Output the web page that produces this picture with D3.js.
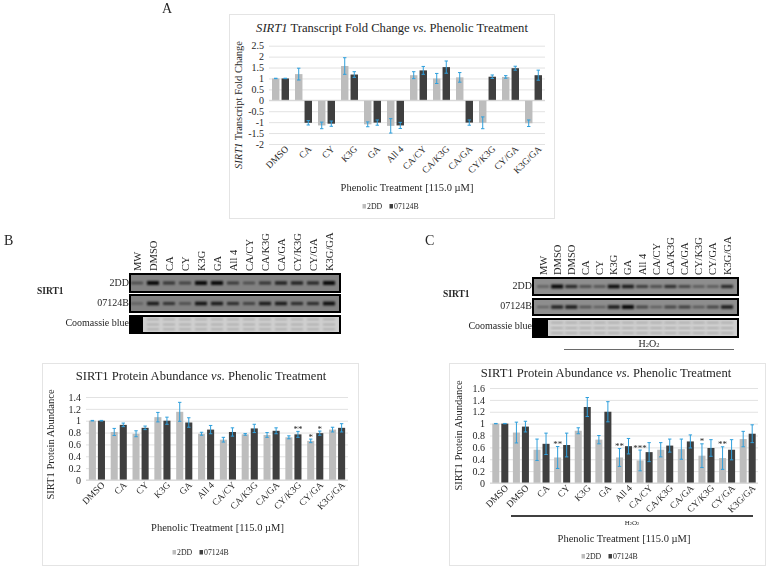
<!DOCTYPE html>
<html>
<head>
<meta charset="utf-8">
<script src="https://cdn.jsdelivr.net/npm/d3@7"></script>
<style>
  body { margin: 0; background: #fff; }
  svg { display: block; filter: blur(0.35px); }
  text { font-family: "Liberation Serif", serif; fill: #262626; }
</style>
</head>
<body>
<div id="chart"></div>
<script>
// series names
const seriesNames = ['2DD', '07124B'];

// panel A - transcript fold change
const catsA = ['DMSO', 'CA', 'CY', 'K3G', 'GA', 'All 4', 'CA/CY', 'CA/K3G', 'CA/GA', 'CY/K3G', 'CY/GA', 'K3G/GA'];
const a2DD = [1, 1.2, -1.15, 1.57, -1.1, -1.17, 1.15, 1.0, 1.05, -1.03, 1.07, -1.05];
const a07 = [1, -1.03, -1.07, 1.18, -1.02, -1.15, 1.37, 1.52, -1.02, 1.08, 1.47, 1.15];
const aErr2DD = [0.01, 0.27, 0.15, 0.38, 0.11, 0.33, 0.16, 0.23, 0.22, 0.27, 0.06, 0.15];
const aErr07 = [0.01, 0.1, 0.12, 0.13, 0.12, 0.14, 0.18, 0.28, 0.12, 0.08, 0.09, 0.23];
const ticksA = [-2, -1.5, -1, -0.5, 0, 0.5, 1, 1.5, 2, 2.5];

// panel B - protein abundance
const catsB = catsA;
const b2DD = [1, 0.81, 0.78, 1.06, 1.15, 0.78, 0.68, 0.77, 0.76, 0.72, 0.66, 0.85];
const b07 = [1, 0.93, 0.88, 1.0, 0.97, 0.85, 0.81, 0.87, 0.83, 0.77, 0.79, 0.88];
const bErr2DD = [0.005, 0.06, 0.05, 0.08, 0.16, 0.025, 0.04, 0.015, 0.04, 0.025, 0.03, 0.04];
const bErr07 = [0.005, 0.03, 0.03, 0.06, 0.08, 0.07, 0.07, 0.07, 0.05, 0.05, 0.035, 0.07];
const bStars2DD = ['', '', '', '', '', '', '', '', '', '', '*', ''];
const bStars07 = ['', '', '', '', '', '', '', '', '', '**', '*', ''];
const ticksB = [0, 0.2, 0.4, 0.6, 0.8, 1, 1.2, 1.4];

// panel C - protein abundance with H2O2
const catsC = ['DMSO', 'DMSO ', 'CA', 'CY', 'K3G', 'GA', 'All 4', 'CA/CY', 'CA/K3G', 'CA/GA', 'CY/K3G', 'CY/GA', 'K3G/GA'];
const c2DD = [1, 0.85, 0.56, 0.43, 0.88, 0.73, 0.43, 0.38, 0.56, 0.57, 0.46, 0.42, 0.74];
const c07 = [1, 0.95, 0.66, 0.64, 1.28, 1.2, 0.62, 0.52, 0.63, 0.7, 0.59, 0.56, 0.83];
const cErr2DD = [0.003, 0.175, 0.18, 0.185, 0.05, 0.07, 0.15, 0.175, 0.12, 0.17, 0.2, 0.19, 0.13];
const cErr07 = [0.003, 0.09, 0.18, 0.2, 0.16, 0.17, 0.13, 0.16, 0.11, 0.11, 0.14, 0.17, 0.15];
const cStars2DD = ['', '', '', '**', '', '', '**', '***', '', '', '*', '**', ''];
const cStars07 = ['', '', '', '', '', '', '', '', '', '', '', '', ''];
const ticksC = [0, 0.2, 0.4, 0.6, 0.8, 1, 1.2, 1.4, 1.6];

// blots - band strength per lane, 0 to 1
const lanesB = ['MW', 'DMSO', 'CA', 'CY', 'K3G', 'GA', 'All 4', 'CA/CY', 'CA/K3G', 'CA/GA', 'CY/K3G', 'CY/GA', 'K3G/GA'];
const bandsB2DD = [0.4, 0.95, 0.6, 0.5, 0.95, 0.95, 0.55, 0.4, 0.6, 0.75, 0.75, 0.7, 0.95];
const bandsB07 = [0.25, 0.8, 0.6, 0.4, 0.85, 0.8, 0.65, 0.5, 0.8, 0.8, 0.65, 0.65, 0.9];
const lanesC = ['MW', 'DMSO', 'DMSO ', 'CA', 'CY', 'K3G', 'GA', 'All 4', 'CA/CY', 'CA/K3G', 'CA/GA', 'CY/K3G', 'CY/GA', 'K3G/GA'];
const bandsC2DD = [0.3, 0.95, 0.7, 0.45, 0.4, 0.9, 0.8, 0.55, 0.45, 0.65, 0.5, 0.35, 0.35, 0.7];
const bandsC07 = [0.25, 0.75, 0.8, 0.4, 0.3, 0.8, 0.95, 0.5, 0.3, 0.5, 0.55, 0.35, 0.5, 0.8];

const colors = { '2DD': '#bdbdbd', '07124B': '#3f3f3f' };
const errColor = '#2f9fdc';

const svg = d3.select('#chart').append('svg').attr('width', 771).attr('height', 571);

const blur = svg.append('defs').append('filter').attr('id', 'soft')
  .attr('x', '-30%').attr('y', '-100%').attr('width', '160%').attr('height', '300%');
blur.append('feGaussianBlur').attr('stdDeviation', 0.9);

// title parts: [text, italic]
function richText(sel, parts) {
  parts.forEach(p => {
    sel.append('tspan').attr('font-style', p[1] ? 'italic' : 'normal').text(p[0]);
  });
}

function drawBars(o) {
  const g = svg.append('g');

  g.append('rect')
    .attr('x', o.card[0]).attr('y', o.card[1])
    .attr('width', o.card[2] - o.card[0]).attr('height', o.card[3] - o.card[1])
    .attr('fill', '#fff').attr('stroke', '#e4e4e4').attr('stroke-width', 1);

  const x0 = d3.scaleBand().domain(o.cats).range([o.left, o.right]);
  const x1 = d3.scaleBand().domain(seriesNames).range([0, x0.bandwidth()])
    .paddingInner(0.22).paddingOuter(o.barPad);
  const y = d3.scaleLinear().domain(o.domain).range([o.bottom, o.top]);

  // gridlines
  g.append('g').attr('transform', `translate(${o.left},0)`)
    .call(d3.axisLeft(y).tickValues(o.ticks).tickSize(0).tickPadding(5).tickFormat(d => String(d)))
    .call(a => a.select('.domain').remove())
    .call(a => a.selectAll('text').attr('font-size', 10))
    .call(a => a.selectAll('.tick').append('line')
      .attr('x2', o.right - o.left).attr('stroke', '#e2e2e2').attr('stroke-width', 1));

  seriesNames.forEach((s, si) => {
    const vals = o.values[si], errs = o.errs[si];
    g.selectAll(null).data(o.cats).enter().append('rect')
      .attr('x', c => x0(c) + x1(s))
      .attr('width', x1.bandwidth())
      .attr('y', (c, i) => y(Math.max(0, vals[i])))
      .attr('height', (c, i) => Math.abs(y(vals[i]) - y(0)))
      .attr('fill', colors[s]);
  });

  // baseline
  g.append('line').attr('x1', o.left).attr('x2', o.right)
    .attr('y1', y(0)).attr('y2', y(0)).attr('stroke', '#d4d4d4');

  seriesNames.forEach((s, si) => {
    const vals = o.values[si], errs = o.errs[si];
    const cx = c => x0(c) + x1(s) + x1.bandwidth() / 2;
    const eb = g.selectAll(null).data(o.cats).enter().append('g')
      .attr('stroke', errColor).attr('stroke-width', 1);
    eb.append('line').attr('x1', cx).attr('x2', cx)
      .attr('y1', (c, i) => y(vals[i] - errs[i])).attr('y2', (c, i) => y(vals[i] + errs[i]));
    eb.append('line').attr('x1', c => cx(c) - 1.7).attr('x2', c => cx(c) + 1.7)
      .attr('y1', (c, i) => y(vals[i] - errs[i])).attr('y2', (c, i) => y(vals[i] - errs[i]));
    eb.append('line').attr('x1', c => cx(c) - 1.7).attr('x2', c => cx(c) + 1.7)
      .attr('y1', (c, i) => y(vals[i] + errs[i])).attr('y2', (c, i) => y(vals[i] + errs[i]));

    if (o.stars) {
      g.selectAll(null).data(o.cats).enter().append('text')
        .attr('x', cx).attr('y', (c, i) => y(vals[i] + errs[i]) + 0.5)
        .attr('text-anchor', 'middle').attr('font-size', 9)
        .text((c, i) => o.stars[si][i]);
    }
  });

  // category labels sit at the bottom of the plot
  g.append('g').attr('transform', `translate(0,${o.bottom})`)
    .call(d3.axisBottom(x0).tickSize(0).tickPadding(4).tickFormat(d => d.trim()))
    .call(a => a.select('.domain').remove())
    .call(a => a.selectAll('text')
      .attr('font-size', 9.5)
      .attr('text-anchor', 'end')
      .attr('dx', '2').attr('dy', '6')
      .attr('transform', 'rotate(-45)'));

  const title = g.append('text').attr('x', o.titleAt[0]).attr('y', o.titleAt[1])
    .attr('text-anchor', 'middle').attr('font-size', o.titleSize);
  richText(title, o.title);

  const yt = g.append('text')
    .attr('transform', `translate(${o.yTitleAt[0]},${o.yTitleAt[1]}) rotate(-90)`)
    .attr('text-anchor', 'middle').attr('font-size', o.yTitleSize);
  richText(yt, o.yTitle);

  g.append('text').attr('x', o.xTitleAt[0]).attr('y', o.xTitleAt[1])
    .attr('text-anchor', 'middle').attr('font-size', 10.5)
    .text('Phenolic Treatment [115.0 µM]');

  seriesNames.forEach((s, si) => {
    g.append('rect').attr('x', o.legend[si] - 4.5).attr('y', o.legendY - 5)
      .attr('width', 3.5).attr('height', 4.5).attr('fill', colors[s]);
    g.append('text').attr('x', o.legend[si]).attr('y', o.legendY)
      .attr('font-size', 7.8).attr('fill', '#444').text(s);
  });
}

function drawBlot(o) {
  const g = svg.append('g');
  const x = d3.scalePoint().domain(o.lanes).range(o.laneRange);
  const dark = d3.scaleLinear().domain([0, 1]).range([0.1, 1]);
  const thick = d3.scaleLinear().domain([0, 1]).range([1.5, 4]);

  const rows = [[o.rows[0], o.bands[0]], [o.rows[1], o.bands[1]]];
  rows.forEach(r => {
    g.append('rect').attr('x', o.left).attr('y', r[0][0])
      .attr('width', o.right - o.left).attr('height', r[0][1] - r[0][0])
      .attr('fill', o.gel).attr('stroke', '#000').attr('stroke-width', 2);
    g.selectAll(null).data(o.lanes).enter().append('rect')
      .attr('x', l => x(l) - 6).attr('width', 12)
      .attr('y', (l, i) => (r[0][0] + r[0][1]) / 2 - thick(r[1][i]) / 2)
      .attr('height', (l, i) => thick(r[1][i]))
      .attr('fill', '#000').attr('fill-opacity', (l, i) => dark(r[1][i]))
      .attr('filter', 'url(#soft)');
  });

  // coomassie row
  const c = o.rows[2];
  g.append('rect').attr('x', o.left).attr('y', c[0])
    .attr('width', o.right - o.left).attr('height', c[1] - c[0])
    .attr('fill', '#cfcfcf').attr('stroke', '#000').attr('stroke-width', 2);
  g.append('rect').attr('x', o.left).attr('y', c[0])
    .attr('width', o.blackTo - o.left).attr('height', c[1] - c[0]).attr('fill', '#000');
  o.lanes.slice(1).forEach(l => {
    [0.2, 0.5, 0.78].forEach(f => {
      g.append('rect').attr('x', x(l) - 6).attr('width', 12)
        .attr('y', c[0] + (c[1] - c[0]) * f - 0.6).attr('height', 1.2)
        .attr('fill', '#9a9a9a').attr('filter', 'url(#soft)');
    });
  });

  g.selectAll(null).data(o.lanes).enter().append('text')
    .attr('transform', l => `translate(${x(l) + 3.5},${o.labelBottom}) rotate(-90)`)
    .attr('font-size', 10.5).text(l => l.trim());

  g.append('text').attr('x', o.sirtX).attr('y', o.sirtY)
    .attr('font-size', 9.5).attr('font-weight', 'bold').text('SIRT1');
  o.rowLabels.forEach(r => {
    g.append('text').attr('x', o.left - 1).attr('y', r[1])
      .attr('text-anchor', 'end').attr('font-size', 10).text(r[0]);
  });
}

function h2o2(x, y, size) {
  const t = svg.append('text').attr('x', x).attr('y', y)
    .attr('text-anchor', 'middle').attr('font-size', size);
  t.append('tspan').text('H');
  t.append('tspan').attr('font-size', size * 0.65).text('2');
  t.append('tspan').text('O');
  t.append('tspan').attr('font-size', size * 0.65).text('2');
}

drawBars({
  card: [229.5, 14.5, 554.5, 218.5], left: 269, right: 545, top: 45.7, bottom: 144,
  domain: [-2, 2.5], ticks: ticksA, cats: catsA, barPad: 0.315,
  values: [a2DD, a07], errs: [aErr2DD, aErr07],
  title: [['SIRT1', true], [' Transcript Fold Change ', false], ['vs', true], ['. Phenolic Treatment', false]],
  titleAt: [392, 32], titleSize: 12.6,
  yTitle: [['SIRT1', true], [' Transcript Fold Change', false]],
  yTitleAt: [242, 105], yTitleSize: 10.5,
  xTitleAt: [407, 191], legend: [367, 394], legendY: 209
});

drawBars({
  card: [42.5, 363.5, 358.5, 565.5], left: 86, right: 348, top: 397, bottom: 480,
  domain: [0, 1.4], ticks: ticksB, cats: catsB, barPad: 0.315,
  values: [b2DD, b07], errs: [bErr2DD, bErr07], stars: [bStars2DD, bStars07],
  title: [['SIRT1 Protein Abundance ', false], ['vs', true], ['. Phenolic Treatment', false]],
  titleAt: [201, 380], titleSize: 12.6,
  yTitle: [['SIRT1 Protein Abundance', false]],
  yTitleAt: [54, 444.5], yTitleSize: 10.5,
  xTitleAt: [217.5, 531], legend: [177, 204], legendY: 555
});

drawBars({
  card: [449.5, 363.5, 765.5, 565.5], left: 490, right: 758, top: 388, bottom: 483,
  domain: [0, 1.6], ticks: ticksC, cats: catsC, barPad: 0.255,
  values: [c2DD, c07], errs: [cErr2DD, cErr07], stars: [cStars2DD, cStars07],
  title: [['SIRT1 Protein Abundance ', false], ['vs', true], ['. Phenolic Treatment', false]],
  titleAt: [606, 377], titleSize: 12.6,
  yTitle: [['SIRT1 Protein Abundance', false]],
  yTitleAt: [462, 435.5], yTitleSize: 10.5,
  xTitleAt: [624, 542], legend: [586, 613], legendY: 559
});

// H2O2 bar under panel C chart labels
svg.append('line').attr('x1', 511).attr('x2', 753).attr('y1', 516).attr('y2', 516)
  .attr('stroke', '#000').attr('stroke-width', 1.4);
h2o2(632, 525, 7);

drawBlot({
  lanes: lanesB, bands: [bandsB2DD, bandsB07], laneRange: [137, 329],
  left: 130, right: 340, rows: [[274, 292], [295, 312], [316, 333]], blackTo: 143,
  gel: '#828282', labelBottom: 271, sirtX: 37, sirtY: 294,
  rowLabels: [['2DD', 286], ['07124B', 306], ['Coomassie blue', 326]]
});

drawBlot({
  lanes: lanesC, bands: [bandsC2DD, bandsC07], laneRange: [543, 727],
  left: 533, right: 738, rows: [[278, 295], [299, 315], [319, 337]], blackTo: 548,
  gel: '#8e8e8e', labelBottom: 275, sirtX: 443, sirtY: 297,
  rowLabels: [['2DD', 289], ['07124B', 309], ['Coomassie blue', 329]]
});

h2o2(649, 347, 10);
svg.append('line').attr('x1', 564).attr('x2', 734).attr('y1', 349.5).attr('y2', 349.5)
  .attr('stroke', '#444').attr('stroke-width', 0.8);

// panel letters
[['A', 162, 13], ['B', 4, 245], ['C', 425, 245]].forEach(d => {
  svg.append('text').attr('x', d[1]).attr('y', d[2]).attr('font-size', 14).text(d[0]);
});
</script>
</body>
</html>
